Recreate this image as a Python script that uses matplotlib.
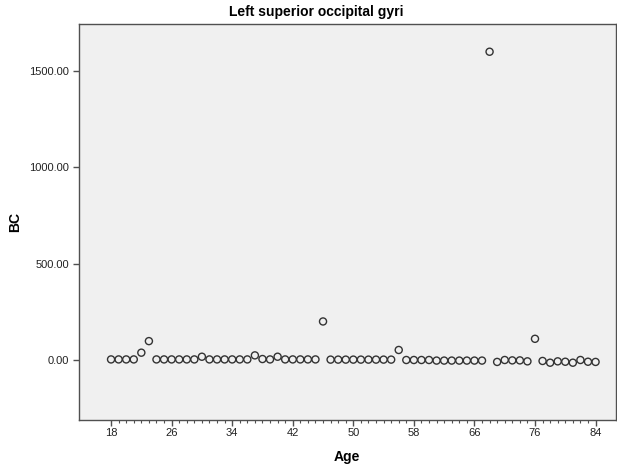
import numpy as np
import matplotlib
matplotlib.use("Agg")
import matplotlib.pyplot as plt

plt.rcParams['font.family'] = ['Liberation Sans', 'DejaVu Sans']

# Age categories (categorical axis; 70 and 73 absent)
ages = list(range(18, 67)) + [67, 68, 69, 71, 72, 74, 75, 76] + list(range(77, 85))
bc = [3, 3, 3, 3, 38, 98, 3, 3, 3, 3, 3, 3, 17, 3, 3, 3, 3, 3, 3, 24,
      5, 3, 17, 3, 3, 3, 3, 3, 200, 2, 2, 2, 2, 2, 2, 2, 2, 2, 52, 0,
      0, 0, 0, -3, -3, -3, -3, -3, -3, -3, 1600, -10, 0, -2, -2, -7, 110, -5, -14, -7,
      -9, -14, 0, -9, -10]
yticks = [0, 500, 1000, 1500]
title = "Left superior occipital gyri"
xlabel = "Age"
ylabel = "BC"

W, H = 617, 465
fig = plt.figure(figsize=(W / 100, H / 100), dpi=100)
fig.patch.set_facecolor('white')
left, right, top, bottom = 78.5, 616, 24, 420
ax = fig.add_axes([left / W, 1 - bottom / H, (right - left) / W, (bottom - top) / H])
ax.set_facecolor('#f0f0f0')

x = np.arange(len(ages))
ax.scatter(x, bc, s=26, facecolors='none', edgecolors='#333333', linewidths=1.0, zorder=3)

px_per_unit = (360 - 71) / 1500.0
ax.set_xlim(-4.3, 66.7)
ax.set_ylim((360 - bottom) / px_per_unit, (360 - top) / px_per_unit)

major = list(range(0, len(ages), 8))
ax.set_xticks(major)
ax.set_xticklabels([str(ages[i]) for i in major])
ax.set_xticks(x, minor=True)
ax.set_yticks(yticks)
ax.set_yticklabels([f"{v:.2f}" for v in yticks])

for sp in ax.spines.values():
    sp.set_color('#505050')
    sp.set_linewidth(1.0)

ax.tick_params(axis='both', which='major', length=4, width=1, color='#505050',
               labelsize=8, labelcolor='#222222', direction='out')
ax.tick_params(axis='x', which='minor', length=2, width=0.8, color='#505050', direction='out')
ax.tick_params(axis='x', which='major', pad=2)
ax.tick_params(axis='y', which='major', pad=3)

ax.set_xlabel(xlabel, fontsize=10, fontweight='bold')
ax.set_ylabel(ylabel, fontsize=10, fontweight='bold')
ax.xaxis.set_label_coords((347 - left) / (right - left), -(457 - bottom) / (bottom - top))
ax.yaxis.set_label_coords(-(left - 15) / (right - left), 0.5)
ax.xaxis.label.set_va('center')
ax.yaxis.label.set_va('center')
fig.text(316 / W, 1 - 12 / H, title, ha='center', va='center', fontsize=10, fontweight='bold')

fig.savefig("out.png", dpi=100, facecolor='white')
